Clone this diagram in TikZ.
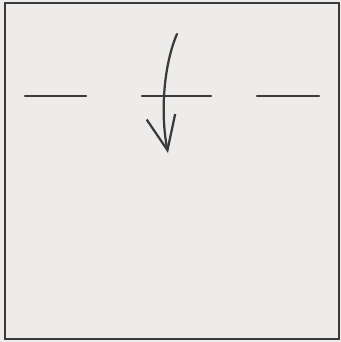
\documentclass[tikz,border=0pt]{standalone}
\usepackage{xcolor}
\definecolor{paper}{HTML}{EDECEB}
\definecolor{ink}{HTML}{3A3A3A}
\usepackage{tikz}
\usetikzlibrary{arrows.meta}

\begin{document}
\begin{tikzpicture}[
  x=0.2mm, y=-0.2mm,
  pen/.style={draw=ink, line width=0.45mm, line cap=round},
  foldline/.style={pen},
  flip/.style={pen, -{Straight Barb[length=6.8mm, width=5.8mm, line width=0.45mm]}}
]
  % paper and frame
  \fill[paper] (0,0) rectangle (341,342);
  \useasboundingbox (0,0) rectangle (341,342);
  \draw[draw=ink, line width=0.45mm] (5,3) rectangle (339,339);
  % three marks
  \coordinate (l1) at (25,96);  \coordinate (l2) at (86,96);
  \coordinate (m1) at (142,96); \coordinate (m2) at (211,96);
  \coordinate (r1) at (257,96); \coordinate (r2) at (319,96);
  \draw[foldline] (l1) -- (l2);
  \draw[foldline] (m1) -- (m2);
  \draw[foldline] (r1) -- (r2);
  % turn over
  \coordinate (top) at (177,34);
  \coordinate (tip) at (168,153);
  \draw[flip] (top) .. controls (164,64) and (160,112) .. (tip);
\end{tikzpicture}
\end{document}
